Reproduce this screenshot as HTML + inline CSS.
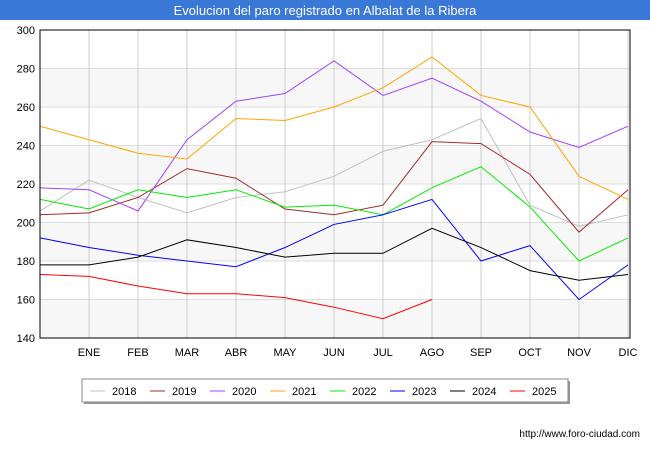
<!DOCTYPE html>
<html><head><meta charset="utf-8"><style>
body{margin:0;width:650px;height:450px;background:#fff;font-family:"Liberation Sans",sans-serif;overflow:hidden}
</style></head><body>
<svg width="650" height="450" id="c" font-family="Liberation Sans, sans-serif">
<rect x="0" y="0" width="650" height="20" fill="#3a78d8"/>
<text x="325" y="15" text-anchor="middle" fill="#fff" font-size="13">Evolucion del paro registrado en Albalat de la Ribera</text>
<g id="grid"></g><g id="series"></g>
<rect x="40" y="30" width="590" height="308" fill="none" stroke="#000"/>
<g>
<rect x="84" y="381" width="486" height="23" fill="#999"/>
<rect x="82" y="379" width="486" height="23" fill="#fff" stroke="#888"/>
<g id="legend"></g></g>
<text x="640" y="437" text-anchor="end" font-size="10">http://www.foro-ciudad.com</text>
</svg>
<script>
const months=["","ENE","FEB","MAR","ABR","MAY","JUN","JUL","AGO","SEP","OCT","NOV","DIC"];
const yTicks=[140,160,180,200,220,240,260,280,300];
const years=["2018","2019","2020","2021","2022","2023","2024","2025"];
const colors=["#c0c0c0","#a52a2a","#a040ff","#ffa500","#00ee00","#0000ff","#000000","#ff0000"];
const s2018=[206,222,213,205,213,216,224,237,243,254,209,198,204];
const s2019=[204,205,213,228,223,207,204,209,242,241,225,195,217];
const s2020=[218,217,206,243,263,267,284,266,275,263,247,239,250];
const s2021=[250,243,236,233,254,253,260,270,286,266,260,224,212];
const s2022=[212,207,217,213,217,208,209,204,218,229,208,180,192];
const s2023=[192,187,183,180,177,187,199,204,212,180,188,160,178];
const s2024=[178,178,182,191,187,182,184,184,197,187,175,170,173];
const s2025=[173,172,167,163,163,161,156,150,160];
const allSeries=[s2018,s2019,s2020,s2021,s2022,s2023,s2024,s2025];
const NS="http://www.w3.org/2000/svg";
const X=i=>40+i*49;
const Y=v=>338-(v-140)*308/160;
function mk(t,a,p){const e=document.createElementNS(NS,t);for(const k in a)e.setAttribute(k,a[k]);p.appendChild(e);return e;}
const g=document.getElementById('grid');
for(let i=0;i<yTicks.length-1;i++){if(i%2==0){const r=mk('rect',{x:40,y:Y(yTicks[i+1]),width:590,height:Y(yTicks[i])-Y(yTicks[i+1]),fill:'#f7f7f7'},g);}}
yTicks.forEach(v=>{const l=mk('line',{x1:40,x2:630,y1:Y(v),y2:Y(v),stroke:'#ddd'},g);
const t=mk('text',{x:35,y:Y(v)+4,'text-anchor':'end','font-size':11},g);t.textContent=v;});
months.forEach((m,i)=>{if(i>0){const l=mk('line',{x1:X(i),x2:X(i),y1:30,y2:338,stroke:'#ccc'},g);}
const t=mk('text',{x:X(i),y:356,'text-anchor':'middle','font-size':11},g);t.textContent=m;});
const sg=document.getElementById('series');
allSeries.forEach((s,k)=>{const p=mk('polyline',{points:s.map((v,i)=>X(i)+','+Y(v)).join(' '),fill:'none',stroke:colors[k],'stroke-width':1},sg);
});
const lg=document.getElementById('legend');
years.forEach((y,k)=>{const x=90+k*60;
const l=mk('line',{x1:x,x2:x+15,y1:391,y2:391,stroke:colors[k]},lg);
const t=mk('text',{x:x+22,y:395,'font-size':11},lg);t.textContent=y;});
</script>
</body></html>
